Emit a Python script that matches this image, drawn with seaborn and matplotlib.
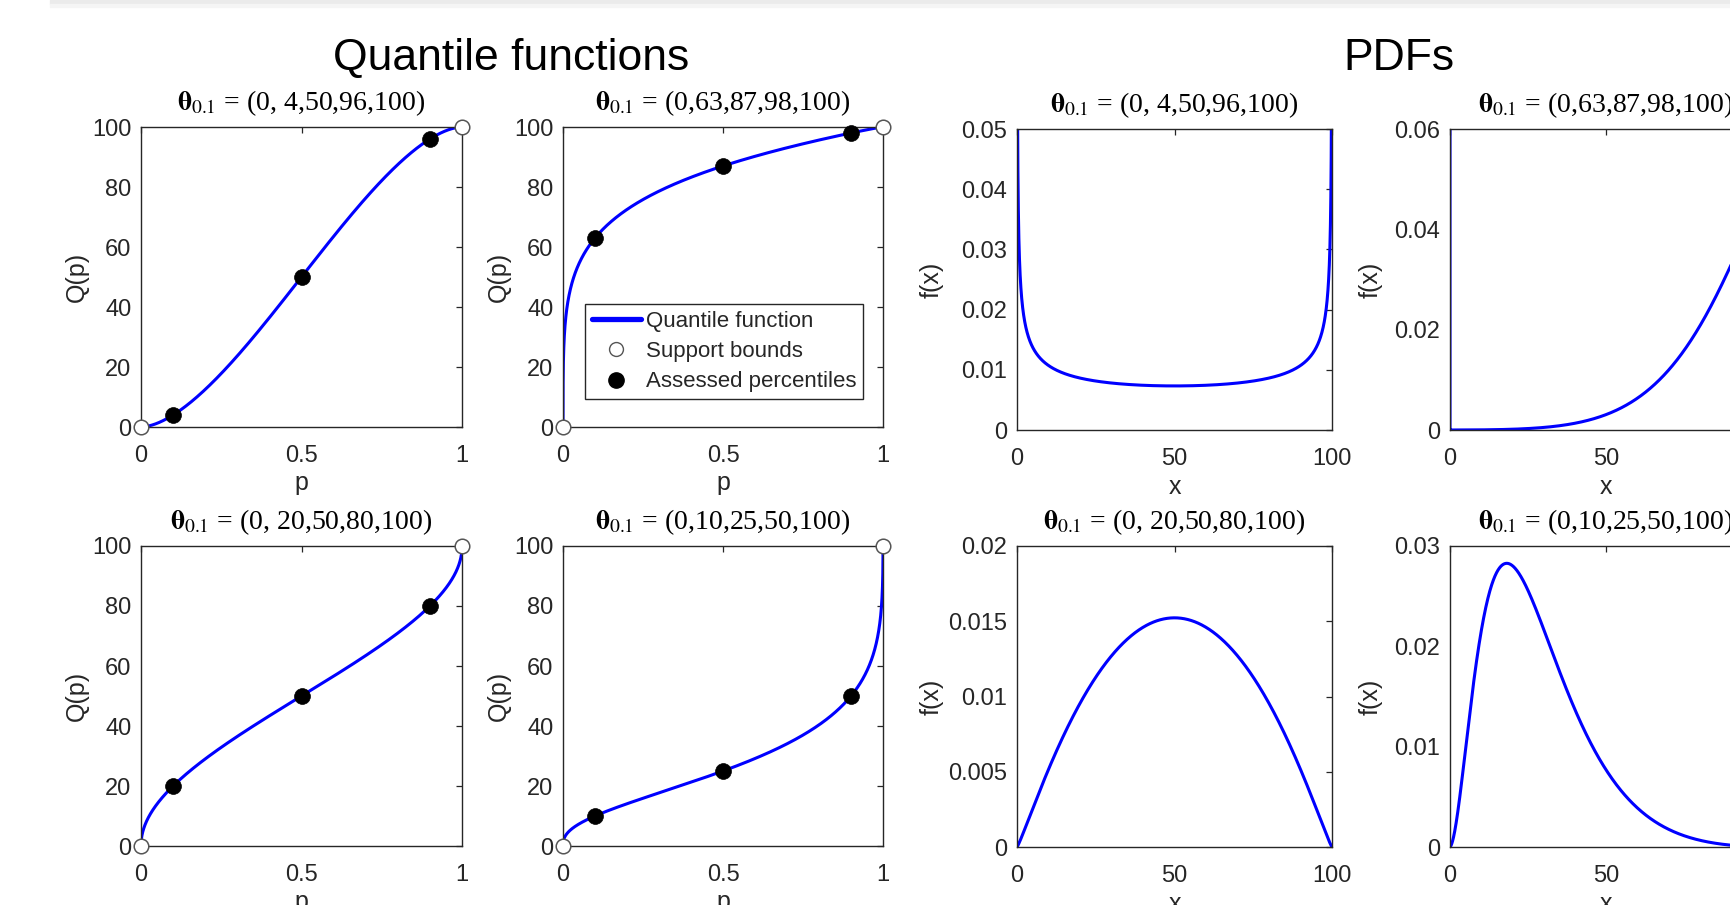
import math
from statistics import NormalDist
import numpy as np
import pandas as pd
import matplotlib
matplotlib.use("Agg")
import matplotlib.pyplot as plt
import seaborn as sns
from matplotlib.lines import Line2D
from matplotlib.patches import Rectangle

# ---------------- data ----------------
ALPHA = 0.1
lower_bounds = [0, 0, 0, 0]
q10_values = [4, 63, 20, 10]
q50_values = [50, 87, 50, 25]
q90_values = [96, 98, 80, 50]
upper_bounds = [100, 100, 100, 100]
assessed_p = [0.1, 0.5, 0.9]
title_tuples = ["(0, 4,50,96,100)", "(0,63,87,98,100)",
                "(0, 20,50,80,100)", "(0,10,25,50,100)"]
q_yticks = [0, 20, 40, 60, 80, 100]
q_xticks = [0, 0.5, 1]
pdf_xticks = [0, 50, 100]
pdf_ymax = [0.05, 0.06, 0.02, 0.03]
pdf_yticks = [[0, 0.01, 0.02, 0.03, 0.04, 0.05],
              [0, 0.02, 0.04, 0.06],
              [0, 0.005, 0.01, 0.015, 0.02],
              [0, 0.01, 0.02, 0.03]]
legend_labels = ["Quantile function", "Support bounds", "Assessed percentiles"]

# ---------------- J-QPD-B distribution from the assessed values ----------------
ND = NormalDist()
erfc_v = np.vectorize(math.erfc)


def Phi(w):
    return 0.5 * erfc_v(-np.asarray(w) / math.sqrt(2.0))


def phi(w):
    return np.exp(-0.5 * np.asarray(w) ** 2) / math.sqrt(2 * math.pi)


def jqpd_curves(l, xa, xm, xh, u, alpha, z):
    c = ND.inv_cdf(1 - alpha)
    L = ND.inv_cdf((xa - l) / (u - l))
    B = ND.inv_cdf((xm - l) / (u - l))
    H = ND.inv_cdf((xh - l) / (u - l))
    s = L + H - 2 * B
    n = 0 if abs(s) < 1e-12 else int(np.sign(s))
    if n == 0:
        k = (H - L) / (2 * c)
        w = B + k * z
        dw = np.full_like(z, k)
    else:
        xi = L if n == 1 else H
        delta = math.acosh((H - L) / (2 * min(B - L, H - B))) / c
        lam = (H - L) / math.sinh(2 * delta * c)
        w = xi + lam * np.sinh(delta * (z + n * c))
        dw = lam * delta * np.cosh(delta * (z + n * c))
    p = Phi(z)
    q = l + (u - l) * Phi(w)
    f = phi(z) / ((u - l) * phi(w) * dw)
    return p, q, f


z_grid = np.linspace(-9, 9, 3001)

# ---------------- style ----------------
sns.set_style("white")
plt.rcParams["font.family"] = ["Liberation Sans", "DejaVu Sans"]
plt.rcParams["mathtext.fontset"] = "stix"
DARK = "#262626"
plt.rcParams.update({
    "axes.edgecolor": DARK, "axes.linewidth": 1.0,
    "xtick.color": DARK, "ytick.color": DARK,
    "xtick.labelcolor": DARK, "ytick.labelcolor": DARK,
    "xtick.direction": "in", "ytick.direction": "in",
    "xtick.top": True, "ytick.right": True,
    "xtick.major.size": 4, "ytick.major.size": 4,
    "xtick.major.width": 0.9, "ytick.major.width": 0.9,
    "xtick.labelsize": 17, "ytick.labelsize": 17,
    "xtick.major.pad": 13, "ytick.major.pad": 7,
})

W, H = 1730, 905
fig = plt.figure(figsize=(W / 100, H / 100), dpi=100)


def rect(x0, y0, x1, y1):
    return [x0 / W, 1 - y1 / H, (x1 - x0) / W, (y1 - y0) / H]


q_cols = [(141, 462), (563, 883)]
pdf_cols = [(1017, 1332), (1450, 1762)]
q_rows = [(127, 427), (546, 846)]
pdf_rows = [(129, 430), (546, 847)]

# top screenshot band
fig.patches.append(Rectangle((50 / W, 1 - 4 / H), 1, 4 / H, transform=fig.transFigure,
                             color="#ebebeb", zorder=0))
fig.patches.append(Rectangle((50 / W, 1 - 7 / H), 1, 3 / H, transform=fig.transFigure,
                             color="#f5f5f5", zorder=0))

TITLE_FAMILY = ["Liberation Serif", "DejaVu Serif"]


def title_text(k):
    return r"$\mathbf{\theta}_{0.1}$ = " + title_tuples[k]


for k in range(4):
    r, cidx = divmod(k, 2)
    l, u = lower_bounds[k], upper_bounds[k]
    p, q, f = jqpd_curves(l, q10_values[k], q50_values[k], q90_values[k], u, ALPHA, z_grid)

    # ---- quantile function panel ----
    x0, x1 = q_cols[cidx]
    y0, y1 = q_rows[r]
    ax = fig.add_axes(rect(x0, y0, x1, y1))
    qdf = pd.DataFrame({"p": np.concatenate([[0.0], p, [1.0]]),
                        "Q": np.concatenate([[l], q, [u]])})
    sns.lineplot(data=qdf, x="p", y="Q", ax=ax, color="#0000ff", lw=2.2,
                 sort=False, estimator=None, zorder=2)
    bdf = pd.DataFrame({"p": [0, 1], "Q": [l, u]})
    sns.scatterplot(data=bdf, x="p", y="Q", ax=ax, s=110, facecolor="white",
                    edgecolor="#555555", linewidth=1.1, zorder=4, clip_on=False)
    adf = pd.DataFrame({"p": assessed_p,
                        "Q": [q10_values[k], q50_values[k], q90_values[k]]})
    sns.scatterplot(data=adf, x="p", y="Q", ax=ax, s=130, color="black",
                    edgecolor="black", linewidth=0.5, zorder=5, clip_on=False)
    ax.set_xlim(0, 1)
    ax.set_ylim(0, 100)
    ax.set_xticks(q_xticks)
    ax.set_xticklabels([f"{v:g}" for v in q_xticks])
    ax.set_yticks(q_yticks)
    ax.set_yticklabels([f"{v:g}" for v in q_yticks])
    ax.set_xlabel("p", fontsize=18, color=DARK, va="center")
    ax.set_ylabel("Q(p)", fontsize=18, color=DARK, va="center")
    ax.xaxis.set_label_coords(0.5, -0.185)
    ax.yaxis.set_label_coords(-0.2, 0.5)
    ax.set_title(title_text(k), fontsize=20, family=TITLE_FAMILY,
                 color="black", pad=12)
    for sp in ax.spines.values():
        sp.set_visible(True)
    if k == 1:
        handles = [Line2D([], [], color="#0000ff", lw=3.8),
                   Line2D([], [], ls="none", marker="o", markersize=10,
                          markerfacecolor="white", markeredgecolor="#555555"),
                   Line2D([], [], ls="none", marker="o", markersize=11,
                          markerfacecolor="black", markeredgecolor="black")]
        leg = ax.legend(handles, legend_labels, loc="lower left",
                        bbox_to_anchor=(0.069, 0.093), borderaxespad=0,
                        fontsize=16, frameon=True, fancybox=False,
                        edgecolor=DARK, framealpha=1, handlelength=2.2,
                        handletextpad=0.25, labelspacing=0.42, borderpad=0.3)
        leg.get_frame().set_linewidth(1.0)

    # ---- pdf panel ----
    x0, x1 = pdf_cols[cidx]
    y0, y1 = pdf_rows[r]
    ax2 = fig.add_axes(rect(x0, y0, x1, y1))
    fdf = pd.DataFrame({"x": q, "f": f})
    sns.lineplot(data=fdf, x="x", y="f", ax=ax2, color="#0000ff", lw=2.2,
                 sort=False, estimator=None)
    ax2.set_xlim(l, u)
    ax2.set_ylim(0, pdf_ymax[k])
    ax2.set_xticks(pdf_xticks)
    ax2.set_xticklabels([f"{v:g}" for v in pdf_xticks])
    ax2.set_yticks(pdf_yticks[k])
    ax2.set_yticklabels([f"{v:g}" for v in pdf_yticks[k]])
    ax2.set_xlabel("x", fontsize=18, color=DARK, va="center")
    ax2.set_ylabel("f(x)", fontsize=18, color=DARK, va="center")
    ax2.xaxis.set_label_coords(0.5, -0.19)
    ax2.yaxis.set_label_coords(-0.27 if cidx == 0 else -0.253, 0.5)
    ax2.set_title(title_text(k), fontsize=20, family=TITLE_FAMILY,
                  color="black", pad=12)
    for sp in ax2.spines.values():
        sp.set_visible(True)

fig.text(511 / W, 1 - 58 / H, "Quantile functions", fontsize=32, ha="center",
         va="center", color="black")
fig.text(1399 / W, 1 - 58 / H, "PDFs", fontsize=32, ha="center", va="center",
         color="black")

fig.savefig("out.png", dpi=100)
